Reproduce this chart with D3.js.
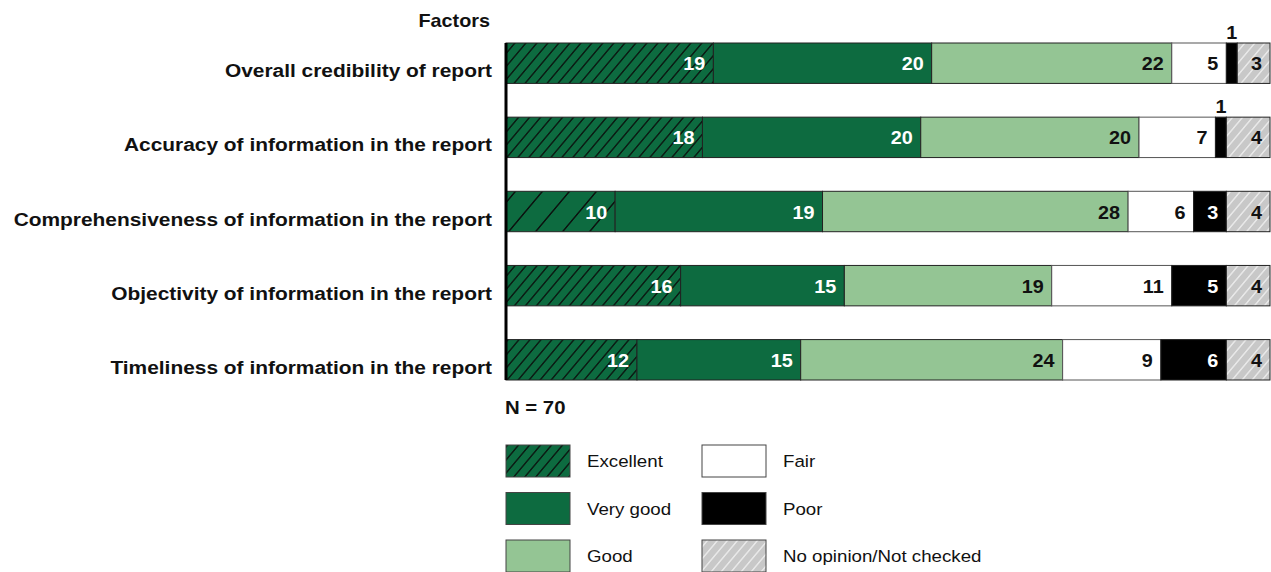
<!DOCTYPE html>
<html>
<head>
<meta charset="utf-8">
<script src="https://cdn.jsdelivr.net/npm/d3@7"></script>
<style>
  body { margin: 0; background: #fff; }
  svg { display: block; font-family: "Liberation Sans", Arial, sans-serif; }
</style>
</head>
<body>
<svg id="chart" width="1271" height="572"></svg>
<script>
// Survey responses by factor (N = 70)
const factors = [
  "Overall credibility of report",
  "Accuracy of information in the report",
  "Comprehensiveness of information in the report",
  "Objectivity of information in the report",
  "Timeliness of information in the report"
];
const ratings = ["Excellent", "Very good", "Good", "Fair", "Poor", "No opinion/Not checked"];
const excellent = [19, 18, 10, 16, 12];
const veryGood  = [20, 20, 19, 15, 15];
const good      = [22, 20, 28, 19, 24];
const fair      = [5, 7, 6, 11, 9];
const poor      = [1, 1, 3, 5, 6];
const noOpinion = [3, 4, 4, 4, 4];
const total = 70;

const series = [excellent, veryGood, good, fair, poor, noOpinion];

const svg = d3.select("#chart");
const defs = svg.append("defs");

// Text is set slightly wide
const SX = 1.1;
function wideText(sel, x, y) {
  return sel.attr("transform", `translate(${x},${y}) scale(${SX},1)`);
}

// Hatch patterns
function hatch(id, size, bg, fg, sw) {
  const p = defs.append("pattern")
    .attr("id", id).attr("patternUnits", "userSpaceOnUse")
    .attr("width", size).attr("height", size).attr("patternTransform", "skewX(-40)");
  p.append("rect").attr("width", size).attr("height", size).attr("fill", bg);
  p.append("line").attr("x1", 1).attr("x2", 1).attr("y1", 0).attr("y2", size)
    .attr("stroke", fg).attr("stroke-width", sw);
}
const darkGreen = "#0d6b40";
hatch("hatchExcellent", 11, darkGreen, "#0a0a0a", 1.6);
hatch("hatchExcellentWide", 27, darkGreen, "#0a0a0a", 1.8);
hatch("hatchNone", 10, "#c8c8c8", "#f0f0f0", 1.6);

const fills = ["url(#hatchExcellent)", darkGreen, "#94c594", "#ffffff", "#000000", "url(#hatchNone)"];
const textColors = ["#fff", "#fff", "#111", "#111", "#fff", "#111"];

const x = d3.scaleLinear().domain([0, total]).range([506, 1270]);
const y = d3.scaleBand().domain(factors).range([43, 380]).paddingInner(0.455).paddingOuter(0);

// Stack the values per factor
const rows = factors.map((f, i) => {
  let acc = 0;
  return series.map((s, k) => {
    const seg = { factor: f, row: i, k, v: s[i], x0: acc, x1: acc + s[i] };
    acc += s[i];
    return seg;
  });
});

function segFill(d) {
  if (d.k === 0 && d.row === 2) return "url(#hatchExcellentWide)";
  return fills[d.k];
}

const g = svg.append("g");

rows.forEach(segs => {
  const rowG = g.append("g");
  rowG.selectAll("rect").data(segs).join("rect")
    .attr("x", d => x(d.x0))
    .attr("y", d => y(d.factor))
    .attr("width", d => x(d.x1) - x(d.x0))
    .attr("height", y.bandwidth())
    .attr("fill", segFill)
    .attr("stroke", d => d.k === 3 ? "#555" : "#222")
    .attr("stroke-width", 1);

  rowG.selectAll("text").data(segs).join("text")
    .each(function (d) {
      const small = d.v <= 1;
      const tx = small ? (x(d.x0) + x(d.x1)) / 2 : x(d.x1) - 8;
      const ty = small ? y(d.factor) - 4 : y(d.factor) + y.bandwidth() / 2 + 7;
      wideText(d3.select(this), tx, ty);
    })
    .attr("text-anchor", d => d.v <= 1 ? "middle" : "end")
    .attr("fill", d => d.v <= 1 ? "#111" : textColors[d.k])
    .attr("font-size", 18).attr("font-weight", "bold")
    .text(d => d.v);
});

// Category axis line
svg.append("line")
  .attr("x1", 506).attr("x2", 506)
  .attr("y1", y(factors[0])).attr("y2", y(factors[factors.length - 1]) + y.bandwidth())
  .attr("stroke", "#000").attr("stroke-width", 3);

// Factor labels
svg.selectAll("text.factor").data(factors).join("text")
  .attr("class", "factor")
  .each(function (d) { wideText(d3.select(this), 492, y(d) + y.bandwidth() / 2 + 14); })
  .attr("text-anchor", "end")
  .attr("font-size", 19).attr("font-weight", "bold").attr("fill", "#111")
  .text(d => d);

wideText(svg.append("text"), 490, 27).attr("text-anchor", "end")
  .attr("font-size", 18).attr("font-weight", "bold").attr("fill", "#111").text("Factors");

wideText(svg.append("text"), 505, 414)
  .attr("font-size", 18.5).attr("font-weight", "bold").attr("fill", "#111").text("N = 70");

// Legend
const legend = svg.append("g");
ratings.forEach((r, i) => {
  const col = Math.floor(i / 3), row = i % 3;
  const lx = 506 + col * 196, ly = 445 + row * 47.5;
  legend.append("rect").attr("x", lx).attr("y", ly).attr("width", 64).attr("height", 32)
    .attr("fill", fills[i]).attr("stroke", "#444").attr("stroke-width", 1);
  wideText(legend.append("text"), lx + 81, ly + 22)
    .attr("font-size", 17).attr("fill", "#111").text(r);
});
</script>
</body>
</html>
